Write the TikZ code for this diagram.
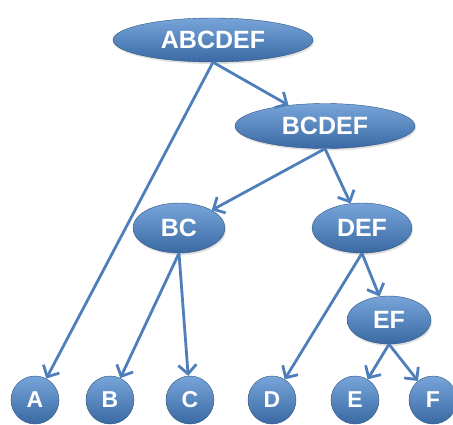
\documentclass[tikz,border=0pt]{standalone}
\usepackage{fontspec}
\setmainfont{Liberation Sans}
\usetikzlibrary{shapes.geometric,arrows.meta,shadows}
\definecolor{l_blue}{HTML}{77A5DA}
\definecolor{d_blue}{HTML}{3A69A3}
\definecolor{e_blue}{HTML}{4F7FBA}

\tikzset{
  set/.style={ellipse, inner sep=0pt, top color=l_blue, bottom color=d_blue,
    draw=d_blue!80!black, line width=.4pt, text=white,
    font=\fontsize{25}{28}\selectfont\bfseries,
    drop shadow={opacity=.25, shadow xshift=1pt, shadow yshift=-2pt}},
  leaf/.style={circle, inner sep=0pt, minimum size=48pt, top color=l_blue, bottom color=d_blue,
    draw=d_blue!80!black, line width=.4pt, text=white,
    font=\fontsize{23}{26}\selectfont\bfseries},
  edge/.style={draw=e_blue, line width=2.8pt, -{Straight Barb[length=9pt,width=18pt,line width=2.8pt]}}
}

\begin{document}
\begin{tikzpicture}[x=1pt,y=-1pt]
\useasboundingbox (0,0) rectangle (453,424);

% inner sets
\node[set, minimum width=200pt, minimum height=44pt] (abcdef) at (213,40) {ABCDEF};
\node[set, minimum width=180pt, minimum height=45pt] (bcdef) at (325,126) {BCDEF};
\node[set, minimum width=92pt, minimum height=50pt] (bc) at (179,228) {BC};
\node[set, minimum width=100pt, minimum height=50pt] (def) at (362,228) {DEF};
\node[set, minimum width=84pt, minimum height=48pt] (ef) at (389,320) {EF};

% leaves
\node[leaf] (a) at (35,400) {A};
\node[leaf] (b) at (110,400) {B};
\node[leaf] (c) at (190,400) {C};
\node[leaf] (d) at (272,400) {D};
\node[leaf] (e) at (355,400) {E};
\node[leaf] (f) at (433,400) {F};

% arrows
\draw[edge] (abcdef.south) -- (a);
\draw[edge] (abcdef.south) -- (bcdef);
\draw[edge] (bcdef.south) -- (bc);
\draw[edge] (bcdef.south) -- (def);
\draw[edge] (bc.south) -- (b);
\draw[edge] (bc.south) -- (c);
\draw[edge] (def.south) -- (d);
\draw[edge] (def.south) -- (ef);
\draw[edge] (ef.south) -- (e);
\draw[edge] (ef.south) -- (f);

\end{tikzpicture}
\end{document}
